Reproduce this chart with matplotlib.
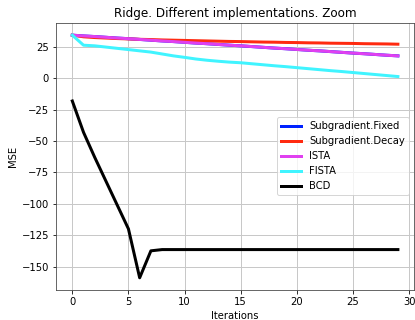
import matplotlib
matplotlib.use('Agg')
import matplotlib.pyplot as plt

iters = list(range(30))

# MSE per iteration for each method
sub_fixed = [34.5, 33.9, 33.4, 32.8, 32.2, 31.7, 31.1, 30.5, 29.9, 29.4, 28.8, 28.2, 27.7, 27.1, 26.5,
             26.0, 25.4, 24.8, 24.2, 23.7, 23.1, 22.5, 22.0, 21.4, 20.8, 20.2, 19.7, 19.1, 18.5, 18.0]
sub_decay = [34.5, 33.2, 32.6, 32.2, 31.8, 31.5, 31.2, 31.0, 30.7, 30.5, 30.3, 30.1, 29.9, 29.7, 29.5,
             29.4, 29.2, 29.0, 28.9, 28.7, 28.6, 28.4, 28.3, 28.1, 28.0, 27.9, 27.7, 27.6, 27.5, 27.3]
ista = [34.5, 33.9, 33.4, 32.8, 32.2, 31.7, 31.1, 30.5, 29.9, 29.4, 28.8, 28.2, 27.7, 27.1, 26.5,
        26.0, 25.4, 24.8, 24.2, 23.7, 23.1, 22.5, 22.0, 21.4, 20.8, 20.2, 19.7, 19.1, 18.5, 18.0]
fista = [34.5, 26.5, 26.0, 25.0, 24.0, 23.0, 22.0, 21.0, 19.5, 18.0, 16.8, 15.5, 14.5, 13.7, 13.0,
         12.5, 11.7, 10.9, 10.1, 9.4, 8.6, 7.8, 7.0, 6.2, 5.5, 4.7, 3.9, 3.1, 2.3, 1.5]
bcd = [-18, -43, -63, -82, -101, -120, -159, -137.5, -136.5, -136.5, -136.5, -136.5, -136.5, -136.5, -136.5,
       -136.5, -136.5, -136.5, -136.5, -136.5, -136.5, -136.5, -136.5, -136.5, -136.5, -136.5, -136.5, -136.5, -136.5, -136.5]

fig = plt.figure(figsize=(415 / 72, 320 / 72), dpi=72)
ax = fig.add_axes([0.135, 0.094, 0.863, 0.834])

ax.plot(iters, sub_fixed, color='#0022ff', lw=3, label='Subgradient.Fixed')
ax.plot(iters, sub_decay, color='#ff2a10', lw=3, label='Subgradient.Decay')
ax.plot(iters, ista, color='#e040f0', lw=3, label='ISTA')
ax.plot(iters, fista, color='#40f4ff', lw=3, label='FISTA')
ax.plot(iters, bcd, color='black', lw=3, label='BCD')

ax.set_title('Ridge. Different implementations. Zoom')
ax.set_xlabel('Iterations')
ax.set_ylabel('MSE')
ax.grid(True, color='#c8c8c8', lw=1)
for s in ax.spines.values():
    s.set_color('#444444')
ax.legend(loc='center right')

fig.savefig('out.png', dpi=72)
